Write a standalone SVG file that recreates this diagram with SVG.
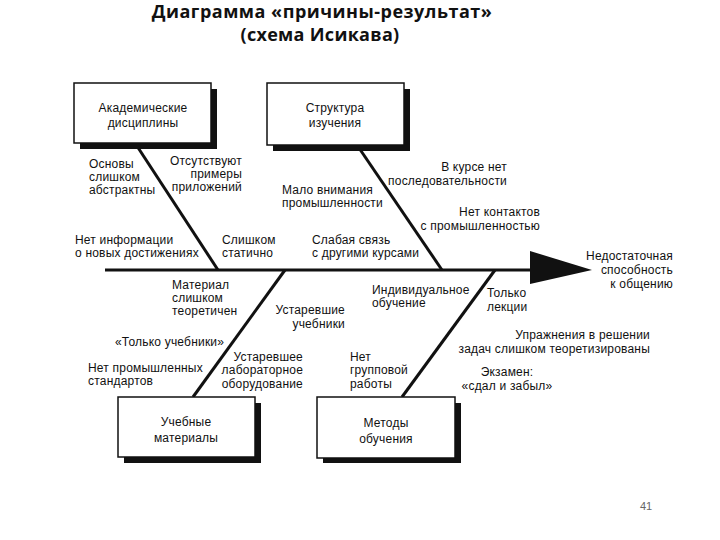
<svg xmlns="http://www.w3.org/2000/svg" width="720" height="540" viewBox="0 0 720 540">
<style>
  .t{font-family:"Liberation Sans",Arial,sans-serif;font-size:12px;letter-spacing:0.2px;fill:#111}
  .m{text-anchor:middle}
  .e{text-anchor:end}
  .title{font-family:"Open Sans","Noto Sans",sans-serif;font-weight:bold;font-size:18px;fill:#111;text-anchor:middle}
  .box{fill:#fff;stroke:#111;stroke-width:1.5}
  .sh{fill:#111}
  .bone{stroke:#111;stroke-width:3;fill:none}
</style>
<rect width="720" height="540" fill="#fff"/>
<g id="title">
  <text class="title" x="322" y="18" letter-spacing="0.5">Диаграмма «причины-результат»</text>
  <text class="title" x="320" y="41" letter-spacing="0.3">(схема Исикава)</text>
</g>
<g id="connectors">
  <line class="bone" x1="105" y1="270" x2="532" y2="270" stroke-width="4"/>
  <polygon points="530,251 592,270 530,284" fill="#111"/>
  <line class="bone" x1="135" y1="143" x2="218" y2="270"/>
  <line class="bone" x1="357" y1="145" x2="442" y2="270"/>
  <line class="bone" x1="285" y1="270" x2="193" y2="397"/>
  <line class="bone" x1="495" y1="270" x2="402" y2="397"/>
</g>
<g id="node-academic">
  <rect class="sh" x="80" y="89" width="137" height="60"/>
  <rect class="box" x="74" y="83" width="137" height="60"/>
  <text class="t m" x="143" y="112">Академические</text>
  <text class="t m" x="143" y="127">дисциплины</text>
</g>
<g id="node-structure">
  <rect class="sh" x="273" y="89" width="137" height="62"/>
  <rect class="box" x="267" y="83" width="137" height="62"/>
  <text class="t m" x="335" y="112">Структура</text>
  <text class="t m" x="335" y="127">изучения</text>
</g>
<g id="node-materials">
  <rect class="sh" x="124" y="403" width="137" height="60"/>
  <rect class="box" x="118" y="397" width="137" height="60"/>
  <text class="t m" x="186" y="426">Учебные</text>
  <text class="t m" x="186" y="442">материалы</text>
</g>
<g id="node-methods">
  <rect class="sh" x="323" y="403" width="138" height="60"/>
  <rect class="box" x="317" y="397" width="138" height="61"/>
  <text class="t m" x="386" y="427">Методы</text>
  <text class="t m" x="386" y="443">обучения</text>
</g>
<g id="node-effect">
  <text class="t e" x="673" y="260">Недостаточная</text>
  <text class="t e" x="673" y="274">способность</text>
  <text class="t e" x="673" y="288">к общению</text>
</g>
<g id="labels">
  <text class="t" x="89" y="168">Основы</text>
  <text class="t" x="89" y="181">слишком</text>
  <text class="t" x="89" y="194">абстрактны</text>
  <text class="t e" x="242" y="165">Отсутствуют</text>
  <text class="t e" x="242" y="178">примеры</text>
  <text class="t e" x="242" y="191">приложений</text>
  <text class="t" x="75" y="244">Нет информации</text>
  <text class="t" x="75" y="257">о новых достижениях</text>
  <text class="t" x="222" y="244">Слишком</text>
  <text class="t" x="222" y="257">статично</text>
  <text class="t" x="282" y="194">Мало внимания</text>
  <text class="t" x="282" y="207">промышленности</text>
  <text class="t e" x="507" y="171">В курсе нет</text>
  <text class="t e" x="507" y="185">последовательности</text>
  <text class="t e" x="540" y="216">Нет контактов</text>
  <text class="t e" x="540" y="230">с промышленностью</text>
  <text class="t" x="312" y="244">Слабая связь</text>
  <text class="t" x="312" y="257">с другими курсами</text>
  <text class="t" x="172" y="289">Материал</text>
  <text class="t" x="172" y="302">слишком</text>
  <text class="t" x="172" y="315">теоретичен</text>
  <text class="t e" x="345" y="314">Устаревшие</text>
  <text class="t e" x="345" y="328">учебники</text>
  <text class="t" x="115" y="346">«Только учебники»</text>
  <text class="t" x="88" y="372">Нет промышленных</text>
  <text class="t" x="88" y="385">стандартов</text>
  <text class="t e" x="303" y="361">Устаревшее</text>
  <text class="t e" x="303" y="374">лабораторное</text>
  <text class="t e" x="303" y="388">оборудование</text>
  <text class="t" x="372" y="294">Индивидуальное</text>
  <text class="t" x="372" y="307">обучение</text>
  <text class="t" x="487" y="297">Только</text>
  <text class="t" x="487" y="311">лекции</text>
  <text class="t e" x="650" y="339">Упражнения в решении</text>
  <text class="t e" x="650" y="353">задач слишком теоретизированы</text>
  <text class="t m" x="507" y="376">Экзамен:</text>
  <text class="t m" x="507" y="390">«сдал и забыл»</text>
  <text class="t" x="350" y="361">Нет</text>
  <text class="t" x="350" y="374">групповой</text>
  <text class="t" x="350" y="388">работы</text>
</g>
<g id="page-number">
  <text x="646" y="510" font-family="'Liberation Sans',sans-serif" font-size="11" fill="#666" text-anchor="middle">41</text>
</g>
</svg>
